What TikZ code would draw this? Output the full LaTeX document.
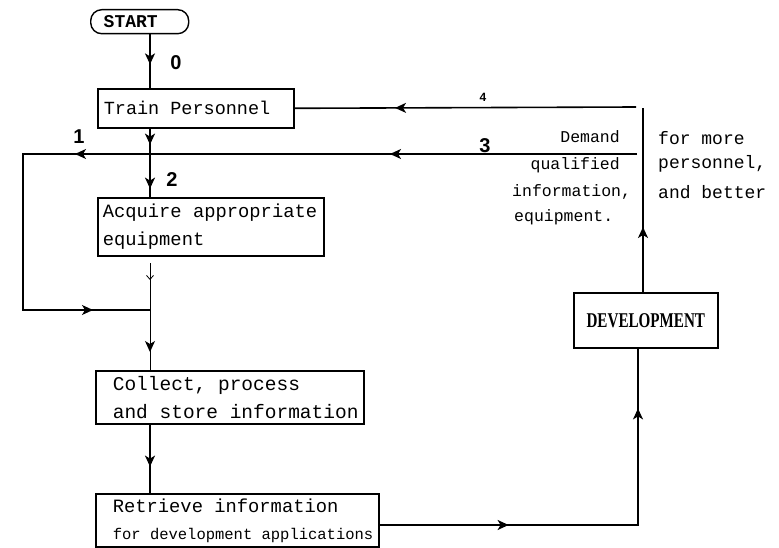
\documentclass[tikz,border=0pt]{standalone}
\usepackage{fontspec}
\usepackage{graphicx}
\setmainfont{Liberation Serif}
\newfontfamily\monofont{Liberation Mono}
\newfontfamily\numfont{Liberation Sans}
\newcommand\mfs[2]{\monofont\fontsize{#1}{#2}\selectfont\spaceskip=0.6em\relax\xspaceskip=0.6em\relax}
\newcommand\fixsp{\spaceskip=0.6em\relax\xspaceskip=0.6em\relax}
\usetikzlibrary{arrows.meta,decorations.markings}
\newcommand\tipA{\arrow{Stealth[length=11pt,width=10pt,inset=3pt]}}
\newcommand\tipB{\arrow{Straight Barb[length=4pt,width=7pt,line width=0.8pt]}}
\begin{document}
\begin{tikzpicture}[x=1pt,y=-1pt,
  box/.style={draw, line width=1.6pt, font={\mfs{19.5}{28}}, align=left, anchor=north west, inner ysep=0pt, inner xsep=4pt},
  lpad/.style={execute at begin node={\fixsp\leftskip=#1\relax\hyphenpenalty=10000\relax}},
  conn/.style={line width=1.6pt},
  marks/.style={postaction={decorate},decoration={markings,#1}},
  num/.style={font={\numfont\bfseries\fontsize{20}{20}\selectfont}, inner sep=0pt},
  side/.style={font={\mfs{#1}{#1}}, inner sep=0pt, execute at begin node={\fixsp}},
]
\useasboundingbox (0,0) rectangle (779,548);

% nodes
\node[draw, line width=1.4pt, rounded corners=11pt, anchor=north west, inner xsep=13pt, inner ysep=0pt,
      text width=72pt, minimum height=24pt, align=left,
      font={\mfs{18}{18}\bfseries}] (start) at (90,9) {START};
\node[box, text width=188pt, lpad=2pt, minimum height=39pt, font={\mfs{18.5}{28}}] (train) at (97,88) {Train Personnel};
\node[box, text width=218pt, lpad=1pt, minimum height=58pt, font={\mfs{18.8}{28}}] (acq) at (97,197) {Acquire appropriate\\equipment};
\node[box, text width=260pt, lpad=13pt, minimum height=53pt] (coll) at (95,370) {Collect, process\\and store information};
\node[box, text width=275pt, lpad=13pt, minimum height=53pt, font={\mfs{18.8}{27}}] (ret) at (95,493)
  {Retrieve information\\{\mfs{15.5}{26}\mbox{for development applications}}};
\node[draw, line width=1.6pt, anchor=north west, minimum width=144pt, minimum height=55pt,
      font={\bfseries\fontsize{21}{21}\selectfont}] (dev) at (573,292) {\scalebox{0.72}[1]{DEVELOPMENT}};

% side texts
\node[side=16.5, anchor=east] (t1) at (620,137) {Demand};
\node[side=16.5, anchor=east] (t2) at (620,165) {qualified};
\node[side=16.5, anchor=west] (t3) at (512,192) {information,};
\node[side=16.5, anchor=west] (t4) at (514,217) {equipment.};
\node[side=18, anchor=west] (u1) at (658,138) {for more};
\node[side=18, anchor=west] (u2) at (658,164) {personnel,};
\node[side=18, anchor=west] (u3) at (658,192) {and better};

% numbers
\node[num] (n0) at (176,63) {0};
\node[num] (n1) at (79,137) {1};
\node[num] (n2) at (172,180) {2};
\node[num] (n3) at (485,146) {3};
\node[num, font={\numfont\bfseries\fontsize{12}{12}\selectfont}] (n4) at (483,97) {4};

% coordinates
\coordinate (sp) at (150,0);
\coordinate (r3) at (637,154);
\coordinate (l1) at (23,154);
\coordinate (l1b) at (23,310);
\coordinate (r4) at (636,107);
\coordinate (acqout) at (150,263);
\coordinate (rc) at (638,525);
\coordinate (vt) at (643,108);

% connectors
\draw[conn, marks={mark=at position 30pt with {\tipA}}] (start.south -| sp) -- (train.north -| sp);
\draw[conn, marks={mark=at position 16pt with {\tipA}, mark=at position 60pt with {\tipA}}]
  (train.south -| sp) -- (acq.north -| sp);
\draw[conn, marks={mark=at position 247pt with {\tipA}, mark=at position 562pt with {\tipA},
                   mark=at position 840pt with {\tipA}}]
  (r3) -- (l1) -- (l1b) -- (l1b -| sp);
\draw[conn, marks={mark=at position 241pt with {\tipA}}] (r4) -- (train.east);
\draw[line width=1pt, marks={mark=at position 17pt with {\tipB}, mark=at position 89pt with {\tipA}}]
  (acqout) -- (coll.north -| sp);
\draw[conn, marks={mark=at position 42pt with {\tipA}}] (coll.south -| sp) -- (ret.north -| sp);
\draw[conn, marks={mark=at position 129pt with {\tipA}, mark=at position 375pt with {\tipA}}]
  (ret.east |- rc) -- (rc) -- (dev.south -| rc);
\draw[conn, marks={mark=at position 65pt with {\tipA}}] (dev.north -| vt) -- (vt);
\end{tikzpicture}
\end{document}
